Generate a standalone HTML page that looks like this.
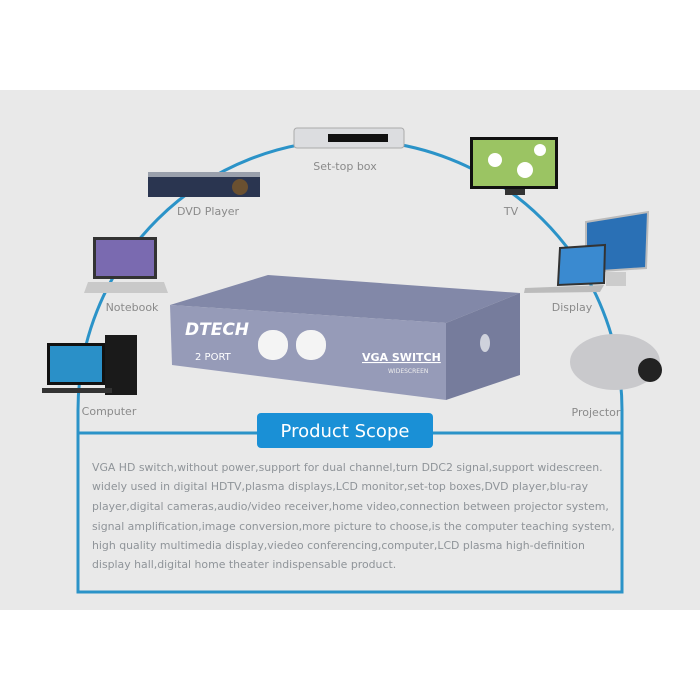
<!DOCTYPE html>
<html><head><meta charset="utf-8"><style>
body{margin:0;width:700px;height:700px;background:#fff;overflow:hidden;font-family:"DejaVu Sans","Liberation Sans",sans-serif}
svg{position:absolute;left:0;top:0}
</style></head><body>
<svg width="700" height="700" viewBox="0 0 700 700">
<rect x="0" y="90" width="700" height="520" fill="#e9e9e9"/>
<path d="M78,433 L78,410 A272,270 0 0 1 622,410 L622,433" fill="none" stroke="#2b93c8" stroke-width="3"/>
<rect x="78" y="433" width="544" height="159" fill="none" stroke="#2b93c8" stroke-width="3"/>
<rect x="257" y="413" width="176" height="35" rx="4" fill="#1a90d6"/>
<text x="345" y="437" text-anchor="middle" font-size="18" fill="#fff">Product  Scope</text>
<g font-size="10.9" fill="#8f9499">
<text x="92" y="471">VGA HD switch,without power,support for dual channel,turn DDC2 signal,support widescreen.</text>
<text x="92" y="490">widely used in digital HDTV,plasma displays,LCD monitor,set-top boxes,DVD player,blu-ray</text>
<text x="92" y="510">player,digital cameras,audio/video receiver,home video,connection between projector system,</text>
<text x="92" y="530">signal amplification,image conversion,more picture to choose,is the computer teaching system,</text>
<text x="92" y="549">high quality multimedia display,viedeo conferencing,computer,LCD plasma high-definition</text>
<text x="92" y="568">display hall,digital home theater indispensable product.</text>
</g>
<g font-size="11" fill="#8a8a8a">
<text x="345" y="170" text-anchor="middle">Set-top box</text>
<text x="208" y="215" text-anchor="middle">DVD Player</text>
<text x="511" y="215" text-anchor="middle">TV</text>
<text x="132" y="311" text-anchor="middle">Notebook</text>
<text x="572" y="311" text-anchor="middle">Display</text>
<text x="109" y="415" text-anchor="middle">Computer</text>
<text x="596" y="416" text-anchor="middle">Projector</text>
</g>
<rect x="294" y="128" width="110" height="20" rx="3" fill="#dcdde0" stroke="#aaa"/>
<rect x="328" y="134" width="60" height="8" fill="#111"/>
<rect x="148" y="175" width="112" height="22" fill="#2a3550"/>
<rect x="148" y="172" width="112" height="5" fill="#9aa0ac"/>
<circle cx="240" cy="187" r="8" fill="#6a5030"/>
<rect x="470" y="137" width="88" height="52" fill="#111"/>
<rect x="473" y="140" width="82" height="46" fill="#9bc463"/>
<circle cx="495" cy="160" r="7" fill="#fff"/><circle cx="525" cy="170" r="8" fill="#fff"/><circle cx="540" cy="150" r="6" fill="#fff"/>
<rect x="505" y="189" width="20" height="6" fill="#333"/>
<polygon points="586,222 648,212 646,268 586,272" fill="#2a70b5" stroke="#bbb" stroke-width="2"/>
<rect x="606" y="272" width="20" height="14" fill="#ccc"/>
<polygon points="560,248 605,245 604,283 558,285" fill="#3a8ad0" stroke="#333" stroke-width="2"/>
<polygon points="525,288 604,285 600,292 524,293" fill="#bbb"/>
<rect x="93" y="237" width="64" height="42" fill="#333"/>
<rect x="96" y="240" width="58" height="36" fill="#7a6ab0"/>
<polygon points="88,282 164,282 168,293 84,293" fill="#c9c9c9"/>
<rect x="47" y="343" width="58" height="42" fill="#111"/>
<rect x="50" y="346" width="52" height="36" fill="#2a90c8"/>
<rect x="105" y="335" width="32" height="60" fill="#1a1a1a"/>
<rect x="42" y="388" width="70" height="5" fill="#333"/>
<ellipse cx="615" cy="362" rx="45" ry="28" fill="#c9c9cc"/>
<circle cx="650" cy="370" r="12" fill="#222"/>
<polygon points="170,305 268,275 520,293 446,323" fill="#8288a8"/>
<polygon points="170,305 446,323 446,400 172,365" fill="#969bb8"/>
<polygon points="446,323 520,293 520,375 446,400" fill="#767c9c"/>
<ellipse cx="485" cy="343" rx="5" ry="9" fill="#cfd2dc"/>
<text x="185" y="335" font-size="17" font-weight="bold" font-style="italic" fill="#fff">DTECH</text>
<text x="195" y="360" font-size="10" fill="#fff">2 PORT</text>
<rect x="258" y="330" width="30" height="30" rx="14" fill="#f4f4f4"/>
<rect x="296" y="330" width="30" height="30" rx="14" fill="#f4f4f4"/>
<text x="362" y="361" font-size="11" font-weight="bold" fill="#fff" text-decoration="underline">VGA SWITCH</text>
<text x="388" y="373" font-size="6" fill="#eee">WIDESCREEN</text>
</svg>
</body></html>
